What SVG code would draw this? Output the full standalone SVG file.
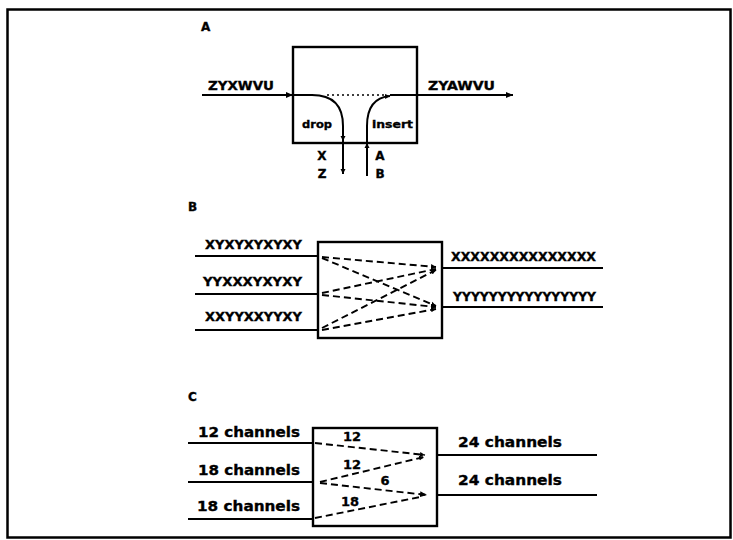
<svg xmlns="http://www.w3.org/2000/svg" width="733" height="540" viewBox="0 0 733 540">
<style>
.frame{fill:none;stroke:#000;stroke-width:2.5}
.box{fill:none;stroke:#000;stroke-width:2.4}
.ln{fill:none;stroke:#000;stroke-width:2}
.dot{fill:none;stroke:#000;stroke-width:1.6;stroke-dasharray:2 3}
.dash{fill:none;stroke:#000;stroke-width:1.9;stroke-dasharray:7 4}
text{font-family:"DejaVu Sans","Liberation Sans",sans-serif;font-weight:bold;fill:#000;stroke:#000;stroke-width:0.35}
.lbl{font-size:12px}
.sm{font-size:11px}
.ch{font-size:14px}
</style>
<defs>
<marker id="ah" markerUnits="userSpaceOnUse" markerWidth="8" markerHeight="8" refX="7" refY="4" orient="auto">
<path d="M0,1 L7,4 L0,7 Z" fill="#000"/>
</marker>
<marker id="as" markerUnits="userSpaceOnUse" markerWidth="6" markerHeight="6" refX="5" refY="3" orient="auto">
<path d="M0,0.5 L5,3 L0,5.5 Z" fill="#000"/>
</marker>
</defs>
<rect class="frame" x="7.5" y="9.5" width="723" height="528"/>

<!-- Panel A -->
<text class="lbl" x="201" y="31">A</text>
<g id="boxA"><rect class="box" x="293" y="47" width="124" height="96"/></g>
<g id="connectorsA">
<line class="ln" x1="202" y1="95" x2="293" y2="95" marker-end="url(#ah)"/>
<path class="ln" d="M293,95 L312,95 Q343,95 343,126 L343,141" marker-end="url(#as)"/>
<line class="ln" x1="343" y1="141" x2="343" y2="174" marker-end="url(#as)"/>
<line class="dot" x1="327" y1="95" x2="386" y2="95"/>
<line class="ln" x1="367" y1="176" x2="367" y2="143" marker-end="url(#as)"/>
<path class="ln" d="M367,143 L367,126 Q367,98 390,96" marker-end="url(#as)"/>
<line class="ln" x1="390" y1="95" x2="513" y2="95" marker-end="url(#ah)"/>
</g>
<text class="lbl" x="208" y="90" textLength="66" lengthAdjust="spacingAndGlyphs" style="font-size:12.5px">ZYXWVU</text>
<text class="lbl" x="428" y="90" textLength="67" lengthAdjust="spacingAndGlyphs" style="font-size:12.5px">ZYAWVU</text>
<text class="sm" x="302" y="128" textLength="30" lengthAdjust="spacingAndGlyphs">drop</text>
<text class="sm" x="372" y="128" textLength="41" lengthAdjust="spacingAndGlyphs">insert</text>
<text class="lbl" x="322" y="160" text-anchor="middle">X</text>
<text class="lbl" x="322" y="178" text-anchor="middle">Z</text>
<text class="lbl" x="380" y="160" text-anchor="middle">A</text>
<text class="lbl" x="380" y="178" text-anchor="middle">B</text>

<!-- Panel B -->
<text class="lbl" x="188" y="211">B</text>
<g id="boxB"><rect class="box" x="318" y="242" width="124" height="96"/></g>
<g id="connectorsB">
<line class="ln" x1="195" y1="256" x2="318" y2="256"/>
<line class="ln" x1="195" y1="294" x2="318" y2="294"/>
<line class="ln" x1="195" y1="330" x2="318" y2="330"/>
<line class="ln" x1="442" y1="268" x2="603" y2="268"/>
<line class="ln" x1="442" y1="307" x2="603" y2="307"/>
<line class="dash" x1="322" y1="257" x2="436" y2="267" marker-end="url(#as)"/>
<line class="dash" x1="322" y1="258" x2="436" y2="306" marker-end="url(#as)"/>
<line class="dash" x1="322" y1="293" x2="436" y2="269" marker-end="url(#as)"/>
<line class="dash" x1="322" y1="295" x2="436" y2="307" marker-end="url(#as)"/>
<line class="dash" x1="322" y1="328" x2="436" y2="270" marker-end="url(#as)"/>
<line class="dash" x1="322" y1="330" x2="436" y2="309" marker-end="url(#as)"/>
</g>
<text class="lbl" x="205" y="249" textLength="97" lengthAdjust="spacingAndGlyphs">XYXYXYXYXY</text>
<text class="lbl" x="203" y="286" textLength="99" lengthAdjust="spacingAndGlyphs">YYXXXYXYXY</text>
<text class="lbl" x="205" y="321" textLength="97" lengthAdjust="spacingAndGlyphs">XXYYXXYYXY</text>
<text class="lbl" x="451" y="261" textLength="145" lengthAdjust="spacingAndGlyphs">XXXXXXXXXXXXXXX</text>
<text class="lbl" x="453" y="301" textLength="143" lengthAdjust="spacingAndGlyphs">YYYYYYYYYYYYYYYY</text>

<!-- Panel C -->
<text class="lbl" x="188" y="401">C</text>
<g id="boxC"><rect class="box" x="313" y="428" width="124" height="98"/></g>
<g id="connectorsC">
<line class="ln" x1="188" y1="443" x2="313" y2="443"/>
<line class="ln" x1="188" y1="482" x2="313" y2="482"/>
<line class="ln" x1="188" y1="519" x2="313" y2="519"/>
<line class="ln" x1="437" y1="455" x2="597" y2="455"/>
<line class="ln" x1="437" y1="495" x2="597" y2="495"/>
<line class="dash" x1="315" y1="443" x2="425" y2="455" marker-end="url(#as)"/>
<line class="dash" x1="320" y1="482" x2="424" y2="457" marker-end="url(#as)"/>
<line class="dash" x1="320" y1="483" x2="427" y2="495" marker-end="url(#ah)"/>
<line class="dash" x1="315" y1="518" x2="420" y2="497"/>
</g>
<text class="sm" x="352" y="441" text-anchor="middle" style="font-size:13px">12</text>
<text class="sm" x="352" y="469" text-anchor="middle" style="font-size:13px">12</text>
<text class="sm" x="385" y="485" text-anchor="middle" style="font-size:13px">6</text>
<text class="sm" x="350" y="506" text-anchor="middle" style="font-size:13px">18</text>
<text class="ch" x="198" y="437" textLength="102" lengthAdjust="spacingAndGlyphs">12 channels</text>
<text class="ch" x="198" y="475" textLength="102" lengthAdjust="spacingAndGlyphs">18 channels</text>
<text class="ch" x="197" y="511" textLength="103" lengthAdjust="spacingAndGlyphs">18 channels</text>
<text class="ch" x="458" y="447" textLength="104" lengthAdjust="spacingAndGlyphs">24 channels</text>
<text class="ch" x="458" y="485" textLength="104" lengthAdjust="spacingAndGlyphs">24 channels</text>
</svg>
